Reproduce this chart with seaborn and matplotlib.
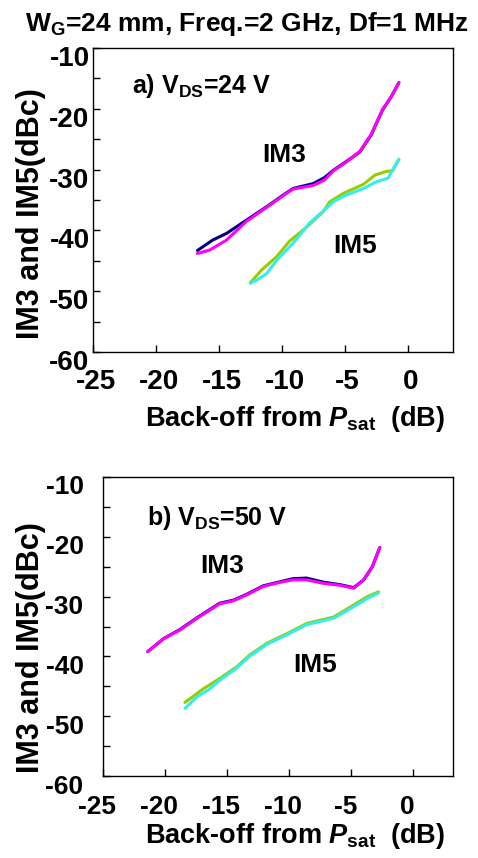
import matplotlib
matplotlib.use("Agg")
import matplotlib.pyplot as plt
import matplotlib.transforms as mtrans
import seaborn as sns
import pandas as pd

# a) VDS = 24 V
a_im3_navy_x = [-16.7, -15.5, -14.4, -12.8, -11.2, -9.9, -9.1, -7.5, -6.6, -5.9, -4.9, -3.8, -2.9, -2.0, -1.3, -0.7]
a_im3_navy_y = [-43.3, -41.6, -40.5, -38.3, -36.1, -34.2, -33.1, -32.3, -31.3, -30.1, -28.7, -27.1, -24.3, -20.2, -18.0, -15.7]
a_im3_mag_x = [-16.7, -15.7, -14.4, -12.8, -11.2, -9.9, -9.1, -7.5, -7.0, -6.6, -5.9, -4.9, -3.8, -2.9, -2.0, -1.3, -0.7]
a_im3_mag_y = [-43.8, -43.2, -41.6, -38.5, -36.2, -34.3, -33.2, -32.6, -32.1, -31.7, -30.2, -28.8, -27.0, -24.2, -20.1, -18.0, -15.7]
a_im5_grn_x = [-12.5, -11.6, -10.4, -9.4, -8.0, -6.7, -6.2, -5.1, -3.5, -2.6, -1.7, -1.2, -0.7]
a_im5_grn_y = [-48.6, -46.5, -44.3, -41.8, -39.4, -36.9, -35.3, -33.9, -32.4, -30.9, -30.3, -30.2, -28.3]
a_im5_cyn_x = [-12.5, -12.0, -11.2, -10.4, -9.1, -7.8, -6.6, -5.9, -4.9, -3.5, -2.5, -1.55, -1.3, -0.7]
a_im5_cyn_y = [-48.7, -48.2, -47.1, -44.9, -42.1, -38.8, -36.6, -35.3, -34.2, -33.1, -32.0, -31.4, -30.4, -28.3]

# b) VDS = 50 V
b_im3_x = [-21.4, -20.1, -18.8, -17.4, -15.6, -14.5, -13.4, -12.1, -10.7, -9.7, -8.6, -7.2, -5.9, -4.8, -4.0, -3.3, -2.7]
b_im3_navy_y = [-39.2, -37.0, -35.5, -33.5, -31.1, -30.6, -29.6, -28.2, -27.5, -27.0, -26.9, -27.6, -28.0, -28.5, -27.2, -25.0, -21.8]
b_im3_mag_y = [-39.2, -37.0, -35.6, -33.6, -31.2, -30.7, -29.7, -28.3, -27.6, -27.2, -27.2, -27.8, -28.1, -28.6, -27.2, -25.0, -21.8]
b_im5_grn_x = [-18.4, -16.9, -15.6, -14.2, -13.2, -11.8, -10.7, -9.9, -8.6, -6.4, -4.8, -3.7, -2.8]
b_im5_grn_y = [-47.7, -45.4, -43.7, -41.7, -39.8, -37.8, -36.7, -35.9, -34.5, -33.4, -31.4, -30.0, -29.2]
b_im5_cyn_x = [-18.4, -17.4, -16.5, -15.6, -14.2, -13.2, -11.8, -10.7, -9.9, -8.6, -6.4, -4.8, -3.7, -2.8]
b_im5_cyn_y = [-48.7, -46.7, -45.6, -44.0, -41.9, -40.0, -38.0, -36.9, -36.1, -34.7, -33.6, -31.7, -30.3, -29.4]

x_ticks = [-25, -20, -15, -10, -5, 0]
y_ticks = [-10, -20, -30, -40, -50, -60]

sns.set_style("ticks")
plt.rcParams['font.family'] = ['Liberation Sans', 'DejaVu Sans']
plt.rcParams['font.weight'] = 'bold'
plt.rcParams['axes.unicode_minus'] = False
plt.rcParams['text.color'] = 'black'
plt.rcParams['axes.labelcolor'] = 'black'
plt.rcParams['xtick.color'] = 'black'
plt.rcParams['ytick.color'] = 'black'
plt.rcParams['mathtext.fontset'] = 'custom'
plt.rcParams['mathtext.rm'] = 'Liberation Sans:bold'
plt.rcParams['mathtext.bf'] = 'Liberation Sans:bold'
plt.rcParams['mathtext.it'] = 'Liberation Sans:bold:italic'

navy, mag, grn, cyn = "#000080", "#ff00ff", "#99cc00", "#33eeee"

fig = plt.figure(figsize=(4.78, 8.58), dpi=100)
ax_a = fig.add_axes([93/478, 1-352/858, 360/478, 304/858])
ax_b = fig.add_axes([103/478, 1-776/858, 350/478, 299/858])


def draw(ax, series):
    for xs, ys, c in series:
        df = pd.DataFrame({"x": xs, "y": ys})
        sns.lineplot(data=df, x="x", y="y", ax=ax, color=c, lw=2.2,
                     sort=False, estimator=None)


draw(ax_a, [(a_im3_navy_x, a_im3_navy_y, navy), (a_im3_mag_x, a_im3_mag_y, mag),
            (a_im5_grn_x, a_im5_grn_y, grn), (a_im5_cyn_x, a_im5_cyn_y, cyn)])
draw(ax_b, [(b_im3_x, b_im3_navy_y, navy), (b_im3_x, b_im3_mag_y, mag),
            (b_im5_grn_x, b_im5_grn_y, grn), (b_im5_cyn_x, b_im5_cyn_y, cyn)])


def shift(labels, dx, dy):
    # nudge tick labels by pixels (dpi 100)
    off = mtrans.ScaledTranslation(dx/100, dy/100, fig.dpi_scale_trans)
    for lbl in labels:
        lbl.set_transform(lbl.get_transform() + off)


# (axes, xmax, tick size, x pad, y pad, x label dx, y label dy)
setup = [(ax_a, 3.6, 20, 12, 2.5, 3, -8), (ax_b, 3.2, 19, 14, 14, -6, -8)]
for ax, xmax, fs, xpad, ypad, xdx, ydy in setup:
    ax.set_xlim(-25, xmax)
    ax.set_ylim(-60, -10)
    ax.set_xticks(x_ticks)
    ax.set_yticks(y_ticks)
    ax.set_yticks(range(-55, -10, 10), minor=True)
    ax.tick_params(which="both", direction="in", length=5, width=1, labelsize=fs)
    ax.tick_params(axis="x", pad=xpad)
    ax.tick_params(axis="y", pad=ypad)
    for s in ax.spines.values():
        s.set_visible(True)
        s.set_linewidth(1)
        s.set_color("black")
    ax.set_xlabel(r"Back-off from $P_{\rm sat}$  (dB)", fontsize=19.5, fontweight="bold")
    ax.set_ylabel("IM3 and IM5(dBc)", fontsize=22, fontweight="bold")
    shift(ax.get_xticklabels(), xdx, 0)
    shift(ax.get_yticklabels(), 0, ydy)

ax_a.xaxis.set_label_coords(0.561, -0.171)
ax_b.xaxis.set_label_coords(0.549, -0.152)
ax_a.yaxis.set_label_coords(-0.13, 0.457)
ax_b.yaxis.set_label_coords(-0.162, 0.428)

ax_a.text(0.108, 0.852, r"a) V$_{\rm DS}$=24 V", transform=ax_a.transAxes, fontsize=18, va="baseline")
ax_b.text(0.126, 0.839, r"b) V$_{\rm DS}$=50 V", transform=ax_b.transAxes, fontsize=18, va="baseline")
ax_a.text(-9.83, -28.75, "IM3", fontsize=19, ha="center", va="baseline")
ax_a.text(-4.19, -43.7, "IM5", fontsize=19, ha="center", va="baseline")
ax_b.text(-15.43, -26.05, "IM3", fontsize=19, ha="center", va="baseline")
ax_b.text(-7.9, -42.6, "IM5", fontsize=19, ha="center", va="baseline")

fig.text(0.517, 0.972, r"W$_{\rm G}$=24 mm, Freq.=2 GHz, Df=1 MHz", fontsize=19,
         ha="center", va="center")

fig.savefig("out.png", dpi=100)
